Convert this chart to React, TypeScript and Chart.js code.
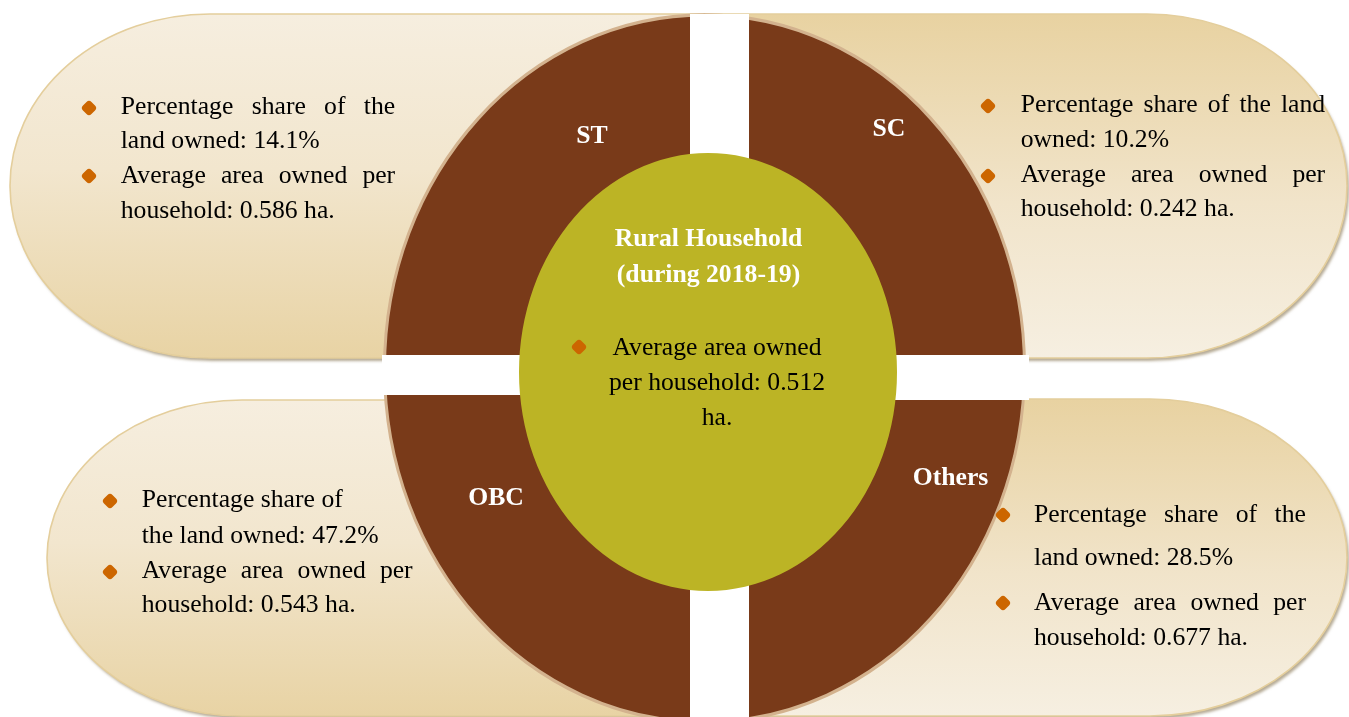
import React, { useEffect, useRef } from "react";
import { Chart, registerables } from "chart.js";

Chart.register(...registerables);

// ---------------- Data ----------------
// Quadrants clockwise from 12 o'clock
const categories = ["SC", "Others", "OBC", "ST"];
const landSharePct = [10.2, 28.5, 47.2, 14.1];
const avgAreaHa = [0.242, 0.677, 0.543, 0.586];
const quadrantWeights = [1, 1, 1, 1];
const overallAvgAreaHa = [0.512];
const centerTitleLines = ["Rural Household", "(during 2018-19)"];

// ---------------- Styles ----------------
const FONT = '"Liberation Serif", "Times New Roman", Times, serif';
const FS = 25.7;
const BROWN = "#793A19";
const OLIVE = "#BCB425";
const BULLET = "#CC6600";

const W = 1349;
const H = 717;

type Item = { base: number; lh: number };
type PanelLayout = {
  left: number;
  width: number;
  bulletX: number;
  items: Item[];
  breakShare?: boolean;
  label: { x: number; base: number };
};

const panelLayout: Record<string, PanelLayout> = {
  SC: { left: 1020.7, width: 304.5, bulletX: 988, items: [{ base: 113, lh: 34.5 }, { base: 183, lh: 34 }], label: { x: 889, base: 136.7 } },
  Others: { left: 1034, width: 272, bulletX: 1003, items: [{ base: 522, lh: 43 }, { base: 610, lh: 35 }], label: { x: 950.5, base: 486 } },
  OBC: { left: 141.7, width: 271, bulletX: 110, breakShare: true, items: [{ base: 508, lh: 36 }, { base: 579, lh: 34 }], label: { x: 496, base: 506 } },
  ST: { left: 120.7, width: 274.5, bulletX: 89, items: [{ base: 115, lh: 34 }, { base: 183, lh: 35 }], label: { x: 592, base: 144 } },
};

type Pill = {
  side: "left" | "right";
  x0: number; x1: number; y0: number; y1: number; rx: number;
  stops: [number, string][];
};

const pills: Pill[] = [
  { side: "left", x0: 10, x1: 704, y0: 14, y1: 358, rx: 200, stops: [[0, "#F6EEDF"], [0.45, "#F2E6CE"], [1, "#E8D3A4"]] },
  { side: "right", x0: 704, x1: 1347, y0: 14, y1: 358, rx: 200, stops: [[0, "#E8D2A1"], [0.55, "#F1E4CA"], [1, "#F6EFE1"]] },
  { side: "left", x0: 47, x1: 704, y0: 400, y1: 716, rx: 195, stops: [[0, "#F6EEDF"], [0.45, "#F2E6CE"], [1, "#E8D3A4"]] },
  { side: "right", x0: 704, x1: 1347, y0: 399, y1: 716, rx: 197, stops: [[0, "#E8D2A1"], [0.55, "#F1E4CA"], [1, "#F6EFE1"]] },
];

// per-dataset elliptical transforms (dataset 0 = quadrant ring, 1 = centre)
const ringTransforms = [
  { cx: 704.5, cy: 368.5, sx: 1, sy: 1.105 },
  { cx: 708, cy: 372, sx: 189 / 176, sy: 219 / 176 },
];

function pillPath(ctx: CanvasRenderingContext2D, p: Pill) {
  const cy = (p.y0 + p.y1) / 2;
  const ry = (p.y1 - p.y0) / 2;
  ctx.beginPath();
  if (p.side === "left") {
    const cx = p.x0 + p.rx;
    ctx.moveTo(p.x1, p.y0);
    ctx.lineTo(cx, p.y0);
    ctx.ellipse(cx, cy, p.rx, ry, 0, -Math.PI / 2, Math.PI / 2, true);
    ctx.lineTo(p.x1, p.y1);
  } else {
    const cx = p.x1 - p.rx;
    ctx.moveTo(p.x0, p.y0);
    ctx.lineTo(cx, p.y0);
    ctx.ellipse(cx, cy, p.rx, ry, 0, -Math.PI / 2, Math.PI / 2, false);
    ctx.lineTo(p.x0, p.y1);
  }
  ctx.closePath();
}

const decorPlugin = {
  id: "decor",
  beforeDatasetsDraw(chart: any) {
    const ctx: CanvasRenderingContext2D = chart.ctx;
    pills.forEach((p) => {
      const grad = ctx.createLinearGradient(0, p.y0, 0, p.y1);
      p.stops.forEach(([o, c]) => grad.addColorStop(o, c));
      ctx.save();
      pillPath(ctx, p);
      ctx.shadowColor = "rgba(120,100,60,0.55)";
      ctx.shadowOffsetX = 2;
      ctx.shadowOffsetY = 3;
      ctx.shadowBlur = 3;
      ctx.fillStyle = grad;
      ctx.fill();
      ctx.restore();
      ctx.save();
      pillPath(ctx, p);
      ctx.strokeStyle = "#E4CE9C";
      ctx.lineWidth = 1.6;
      ctx.stroke();
      ctx.restore();
    });
  },
  beforeDatasetDraw(chart: any, args: any) {
    const ctx: CanvasRenderingContext2D = chart.ctx;
    const arc = args.meta.data[0];
    const t = ringTransforms[args.index];
    ctx.save();
    ctx.translate(t.cx, t.cy);
    ctx.scale(t.sx, t.sy);
    ctx.translate(-arc.x, -arc.y);
  },
  afterDatasetDraw(chart: any, args: any) {
    const ctx: CanvasRenderingContext2D = chart.ctx;
    ctx.restore();
    if (args.index === 0) {
      ctx.save();
      ctx.fillStyle = "#FFFFFF";
      ctx.fillRect(690, 14, 59, H - 14);
      ctx.fillRect(382, 355, 330, 40);
      ctx.fillRect(700, 355, 329, 45);
      ctx.restore();
    }
  },
};

function topFor(base: number, lh: number) {
  return base - lh / 2 - 0.3375 * FS;
}

function Bullet({ x, y }: { x: number; y: number }) {
  const s = 12;
  return (
    <div
      style={{
        position: "absolute",
        left: x - s / 2,
        top: y - s / 2,
        width: s,
        height: s,
        background: BULLET,
        borderRadius: 3.5,
        transform: "rotate(45deg)",
      }}
    />
  );
}

export default function App() {
  const canvasRef = useRef<HTMLCanvasElement | null>(null);

  useEffect(() => {
    if (!canvasRef.current) return;
    const chart = new Chart(canvasRef.current, {
      type: "doughnut",
      data: {
        labels: categories,
        datasets: [
          {
            label: "Social group",
            data: quadrantWeights,
            backgroundColor: categories.map(() => BROWN),
            borderColor: "#D3B28E",
            borderWidth: 3,
            hoverBorderWidth: 3,
            hoverOffset: 0,
            offset: 0,
            weight: 0.45,
            order: 1,
            clip: false,
          } as any,
          {
            label: "Rural Household",
            data: overallAvgAreaHa,
            backgroundColor: [OLIVE],
            borderWidth: 0,
            hoverBorderWidth: 0,
            hoverOffset: 0,
            offset: 0,
            weight: 0.55,
            order: 0,
            clip: false,
          } as any,
        ],
      },
      options: {
        responsive: false,
        animation: false,
        devicePixelRatio: 1,
        cutout: 0,
        rotation: 0,
        events: [],
        layout: { padding: { left: 383, right: 323, top: 20, bottom: 0 } },
        plugins: {
          legend: { display: false },
          tooltip: { enabled: false },
        },
      } as any,
      plugins: [decorPlugin as any],
    });
    return () => chart.destroy();
  }, []);

  const textStyle: React.CSSProperties = {
    position: "absolute",
    fontFamily: FONT,
    fontSize: FS,
    color: "#000",
    textAlign: "justify",
    whiteSpace: "normal",
  };

  return (
    <div
      style={{
        position: "fixed",
        left: 0,
        top: 0,
        width: W,
        height: H,
        overflow: "hidden",
        background: "#fff",
      }}
    >
      <canvas ref={canvasRef} width={W} height={H} style={{ display: "block", width: W, height: H }} />

      {categories.map((cat, i) => {
        const L = panelLayout[cat];
        const share = `${landSharePct[i]}%`;
        const avg = `${avgAreaHa[i].toFixed(3)} ha.`;
        return (
          <React.Fragment key={cat}>
            <div
              style={{
                position: "absolute",
                left: L.label.x - 60,
                width: 120,
                top: topFor(L.label.base, 30),
                lineHeight: "30px",
                fontFamily: FONT,
                fontSize: FS,
                fontWeight: "bold",
                color: "#FFFFFF",
                textAlign: "center",
              }}
            >
              {cat}
            </div>
            <Bullet x={L.bulletX} y={L.items[0].base - 7.5} />
            <div
              style={{
                ...textStyle,
                left: L.left,
                width: L.width,
                top: topFor(L.items[0].base, L.items[0].lh),
                lineHeight: `${L.items[0].lh}px`,
              }}
            >
              {L.breakShare ? (
                <>
                  Percentage share of
                  <br />
                  the land owned: {share}
                </>
              ) : (
                <>Percentage share of the land owned: {share}</>
              )}
            </div>
            <Bullet x={L.bulletX} y={L.items[1].base - 7.5} />
            <div
              style={{
                ...textStyle,
                left: L.left,
                width: L.width,
                top: topFor(L.items[1].base, L.items[1].lh),
                lineHeight: `${L.items[1].lh}px`,
              }}
            >
              Average area owned per household: {avg}
            </div>
          </React.Fragment>
        );
      })}

      {/* centre */}
      <div
        style={{
          position: "absolute",
          left: 708.5 - 150,
          width: 300,
          top: topFor(247, 36),
          lineHeight: "36px",
          fontFamily: FONT,
          fontSize: FS,
          fontWeight: "bold",
          color: "#FFFFFF",
          textAlign: "center",
        }}
      >
        {centerTitleLines.map((t) => (
          <div key={t}>{t}</div>
        ))}
      </div>
      <Bullet x={579} y={347} />
      <div
        style={{
          ...textStyle,
          left: 717 - 113,
          width: 226,
          top: topFor(355, 35),
          lineHeight: "35px",
          textAlign: "center",
        }}
      >
        Average area owned per household: {overallAvgAreaHa[0].toFixed(3)} ha.
      </div>
    </div>
  );
}
